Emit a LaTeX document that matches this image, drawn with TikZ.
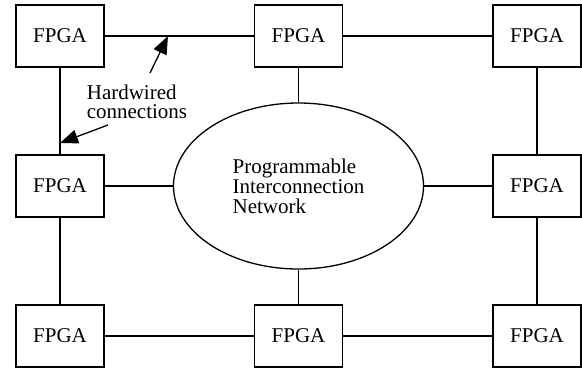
\documentclass[tikz,border=0pt]{standalone}
\usepackage{fontspec}
\setmainfont{Liberation Serif}
\usetikzlibrary{positioning,shapes.geometric,arrows.meta}

\begin{document}
\begin{tikzpicture}[-,line width=0.65pt,on grid,node distance=75pt and 119.25pt,
  fpga/.style={rectangle,draw,minimum width=44pt,minimum height=31pt,inner sep=0pt,font=\fontsize{10.5}{12}\selectfont},
  net/.style={ellipse,draw,minimum width=125pt,minimum height=83pt,inner sep=0pt,align=left,font=\fontsize{10.5}{10}\selectfont},
  pointer/.style={-{Triangle[length=9pt,width=7pt]}}]

                \useasboundingbox (0,0) rectangle (291pt,-185pt);

                \node[fpga]  (1) at (30pt,-18pt) {FPGA};
                \node[fpga]  (2) [right=of 1] {FPGA};
                \node[fpga]  (3) [right=of 2] {FPGA};
                \node[fpga]  (4) [below=of 1] {FPGA};
                \node[fpga]  (5) [below=of 3] {FPGA};
                \node[fpga]  (6) [below=of 4] {FPGA};
                \node[fpga]  (7) [right=of 6] {FPGA};
                \node[fpga]  (8) [right=of 7] {FPGA};

                \node[net] (net) at (2 |- 4) {Programmable\\Interconnection\\Network};

                \node[align=left,font=\fontsize{10.5}{9.5}\selectfont] (hw) at (68.5pt,-51pt) {Hardwired\\connections};
                \coordinate (tip1) at (84pt,-18pt);
                \coordinate (tail1) at (75pt,-36.5pt);
                \coordinate (tip2) at (30pt,-71.5pt);
                \coordinate (tail2) at (54pt,-62.5pt);

                \draw[-] (1) to (2);
                \draw[-] (2) to (3);
                \draw[-] (1) to (4);
                \draw[-] (3) to (5);
                \draw[-] (4) to (6);
                \draw[-] (5) to (8);
                \draw[-] (6) to (7);
                \draw[-] (7) to (8);
                \draw[-] (2) to (net);
                \draw[-] (4) to (net);
                \draw[-] (5) to (net);
                \draw[-] (7) to (net);

                \draw[pointer] (tail1) to (tip1);
                \draw[pointer] (tail2) to (tip2);
            \end{tikzpicture}
\end{document}
